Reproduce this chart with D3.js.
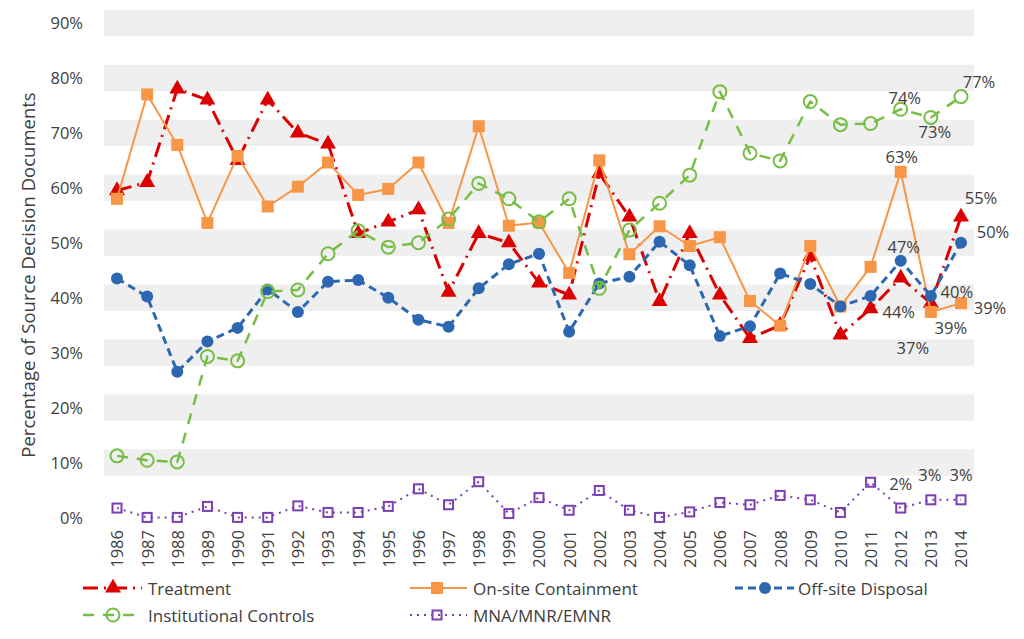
<!DOCTYPE html>
<html><head><meta charset="utf-8">
<script src="https://cdn.jsdelivr.net/npm/d3@7/dist/d3.min.js"></script>
<style>
html,body{margin:0;padding:0;background:#fff;}
text{font-family:"Open Sans","DejaVu Sans",sans-serif;fill:#404040;}
</style></head>
<body><svg id="chart" width="1024" height="639"></svg>
<script>
const years = [1986,1987,1988,1989,1990,1991,1992,1993,1994,1995,1996,1997,1998,1999,2000,2001,2002,2003,2004,2005,2006,2007,2008,2009,2010,2011,2012,2013,2014];
const treatment = [59.5,61,78,76,65,76,70,68,51.7,53.8,56,41,51.7,50,42.7,40.5,62.6,54.7,39.3,51.7,40.5,32.6,35,47.5,33.2,38,43.6,39,54.7];
const onsite = [58,77,67.8,53.6,65.8,56.6,60.2,64.6,58.7,59.8,64.6,53.6,71.2,53.1,53.7,44.5,65,47.9,53,49.4,51,39.4,34.9,49.4,38.4,45.6,62.9,37.4,39];
const offsite = [43.5,40.2,26.5,32,34.5,41.5,37.4,42.9,43.2,40,36,34.7,41.7,46.1,48,33.8,42.6,43.8,50.2,45.9,33,34.8,44.4,42.5,38.4,40.3,46.7,40.3,50];
const institutional = [11.2,10.4,10.1,29.3,28.5,41.1,41.4,48,52.2,49.2,50,54.3,60.8,58,53.8,58,41.7,52.3,57.2,62.3,77.5,66.3,64.9,75.7,71.5,71.7,74.3,72.8,76.6];
const mna = [1.7,0,0,2,0,0,2.1,0.9,0.9,2,5.2,2.3,6.5,0.7,3.6,1.3,4.9,1.3,0,1,2.7,2.3,4,3.2,0.9,6.4,1.7,3.2,3.2];
const yTicks = [0,10,20,30,40,50,60,70,80,90];
const seriesNames = ["Treatment","On-site Containment","Off-site Disposal","Institutional Controls","MNA/MNR/EMNR"];

const svg = d3.select("#chart");
const x = d3.scalePoint().domain(years).range([117, 961]);
const y = d3.scaleLinear().domain([0, 90]).range([517.4, 23]);
const pad = 13;

// bands
svg.append("g").selectAll("rect").data(yTicks.filter(d => d > 0)).join("rect")
  .attr("x", x(years[0]) - pad).attr("width", x(years[years.length-1]) - x(years[0]) + 2*pad)
  .attr("y", d => y(d + 2.4)).attr("height", d => y(d - 2.4) - y(d + 2.4))
  .attr("fill", "#efefef");

// y axis
const yAxis = d3.axisLeft(y).tickValues(yTicks).tickFormat(d => d + "%").tickSize(0).tickPadding(0);
const gy = svg.append("g").attr("transform", "translate(83,0)").call(yAxis);
gy.select(".domain").remove();
gy.selectAll("text").style("font-size", "16.5px").style("font-family", '"Open Sans"').attr("fill", "#404040").attr("dy", "0.35em");

// x axis
const xAxis = d3.axisBottom(x).tickSize(0).tickPadding(0);
const gx = svg.append("g").attr("transform", "translate(0,530)").call(xAxis);
gx.select(".domain").remove();
gx.selectAll("text").style("font-size", "16.5px").style("font-family", '"Open Sans"').attr("fill", "#262626")
  .attr("transform", "rotate(-90)").attr("text-anchor", "end").attr("x", 0).attr("y", 0).attr("dy", "0.36em");

// y title
svg.append("text").attr("transform", "translate(27,275) rotate(-90)").attr("text-anchor", "middle")
  .attr("dominant-baseline", "central").style("font-size", "18.5px").attr("fill", "#262626")
  .text("Percentage of Source Decision Documents");

const cfg = [
  {name: seriesNames[0], vals: treatment, color: "#dd0000", dash: "15,6,2,6", width: 3, marker: "tri"},
  {name: seriesNames[1], vals: onsite, color: "#f79646", dash: null, width: 2, marker: "sq"},
  {name: seriesNames[2], vals: offsite, color: "#2e67b1", dash: "8,5", width: 3, marker: "dot"},
  {name: seriesNames[3], vals: institutional, color: "#76be45", dash: "11,9", width: 2.5, marker: "ocirc"},
  {name: seriesNames[4], vals: mna, color: "#7a3fb0", dash: "2,5", width: 2, marker: "osq"}
];

function drawMarker(g, type, color) {
  if (type === "tri") g.append("path").attr("d", d3.symbol(d3.symbolTriangle, 110)()).attr("fill", color);
  if (type === "sq") g.append("rect").attr("x", -6).attr("y", -6).attr("width", 12).attr("height", 12).attr("fill", color);
  if (type === "dot") g.append("circle").attr("r", 6).attr("fill", color);
  if (type === "ocirc") g.append("circle").attr("r", 6.5).attr("fill", "none").attr("stroke", color).attr("stroke-width", 2);
  if (type === "osq") {
    g.append("rect").attr("x", -4.5).attr("y", -4.5).attr("width", 9).attr("height", 9).attr("fill", "none").attr("stroke", color).attr("stroke-width", 2);
  }
}

const line = d3.line().x((d, i) => x(years[i])).y(d => y(d));
cfg.forEach(s => {
  const g = svg.append("g");
  g.append("path").datum(s.vals).attr("d", line).attr("fill", "none").attr("stroke", s.color)
    .attr("stroke-width", s.width).attr("stroke-dasharray", s.dash).attr("stroke-linejoin", "round");
  s.vals.forEach((v, i) => {
    const m = g.append("g").attr("transform", `translate(${x(years[i])},${y(v)})`);
    drawMarker(m, s.marker, s.color);
  });
});

// data labels: [seriesIndex, year, dx, dy]
const labels = [
  [3, 2012, 4, -12], [3, 2013, 4, 14], [3, 2014, 18, -15],
  [1, 2012, 1, -15], [0, 2014, 20, -19], [2, 2014, 32, -11],
  [2, 2012, 3, -14], [2, 2013, 26, -5], [0, 2012, -2, 34],
  [1, 2014, 29, 4], [0, 2013, 20, 24], [1, 2013, -18, 36],
  [4, 2012, 0, -25], [4, 2013, -1, -25], [4, 2014, 0, -25]
];
svg.append("g").selectAll("text").data(labels).join("text")
  .attr("x", d => x(d[1]) + d[2])
  .attr("y", d => y(cfg[d[0]].vals[years.indexOf(d[1])]) + d[3])
  .attr("text-anchor", "middle").attr("dominant-baseline", "central")
  .style("font-size", "16.5px").attr("fill", "#262626")
  .text(d => Math.round(cfg[d[0]].vals[years.indexOf(d[1])]) + "%");

// legend
const legendPos = [
  {lx: 83, ly: 588, mx: 113, tx: 148},
  {lx: 410, ly: 588, mx: 437, tx: 473},
  {lx: 735, ly: 588, mx: 765, tx: 798},
  {lx: 83, ly: 615, mx: 113, tx: 148},
  {lx: 410, ly: 615, mx: 437, tx: 473}
];
cfg.forEach((s, i) => {
  const p = legendPos[i];
  const g = svg.append("g");
  const lw = (i === 1 || i === 4) ? 57 : 59;
  g.append("line").attr("x1", p.lx).attr("x2", p.lx + lw).attr("y1", p.ly).attr("y2", p.ly)
    .attr("stroke", s.color).attr("stroke-width", s.width).attr("stroke-dasharray", s.dash);
  const m = g.append("g").attr("transform", `translate(${p.mx},${p.ly})`);
  drawMarker(m, s.marker, s.color);
  g.append("text").attr("x", p.tx).attr("y", p.ly).attr("dominant-baseline", "central")
    .style("font-size", "17px").attr("fill", "#262626").text(s.name);
});
</script></body></html>
